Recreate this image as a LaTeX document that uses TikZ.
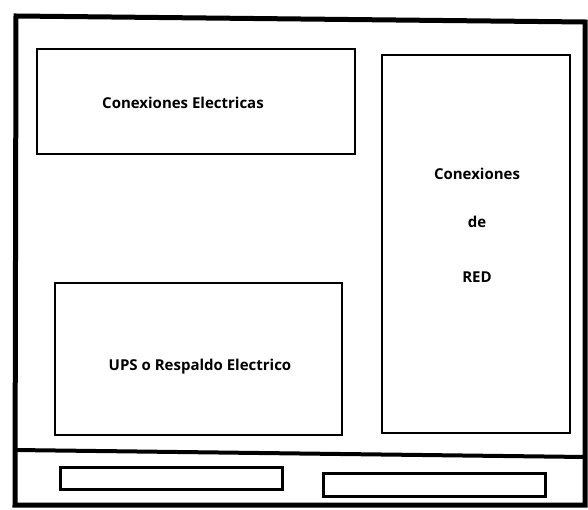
\documentclass[tikz,border=0pt]{standalone}
\usepackage{fontspec}
\setmainfont{Open Sans}
\begin{document}
\begin{tikzpicture}[x=1pt,y=-1pt,
  frame/.style={draw=black,line width=5pt},
  panel/.style={draw=black,line width=2pt,inner sep=0pt},
  slot/.style={draw=black,line width=3pt,inner sep=0pt},
  lbl/.style={font=\fontsize{15}{18}\selectfont\bfseries}]
\useasboundingbox (0,0) rectangle (588,510);
\fill[white] (0,0) rectangle (588,510);
% outer frame
\coordinate (otl) at (16,16);
\coordinate (otr) at (585,22);
\coordinate (obr) at (585,505);
\coordinate (obl) at (15,505);
\draw[frame,line join=miter] (otl) -- (otr) -- (obr) -- (obl) -- cycle;
% divider
\coordinate (dl) at (15,450);
\coordinate (dr) at (585,457);
\draw[line width=4pt] (dl) -- (dr);
% panels
\node[panel,minimum width=318pt,minimum height=105pt] (elec) at (196,102) {};
\node[lbl] (elect) at (183,103) {Conexiones Electricas};
\node[panel,minimum width=188pt,minimum height=378pt] (red) at (476,244) {};
\node[lbl] (redc) at (477,174) {Conexiones};
\node[lbl] (redd) at (477,222) {de};
\node[lbl] (redr) at (477,277) {RED};
\node[panel,minimum width=287pt,minimum height=152pt] (ups) at (198.5,359) {};
\node[lbl] (upst) at (200,367) {UPS o Respaldo Electrico};
% slots
\node[slot,minimum width=222pt,minimum height=22pt] (s1) at (171.5,478.5) {};
\node[slot,minimum width=222pt,minimum height=23pt] (s2) at (434.5,484.5) {};
\end{tikzpicture}
\end{document}
